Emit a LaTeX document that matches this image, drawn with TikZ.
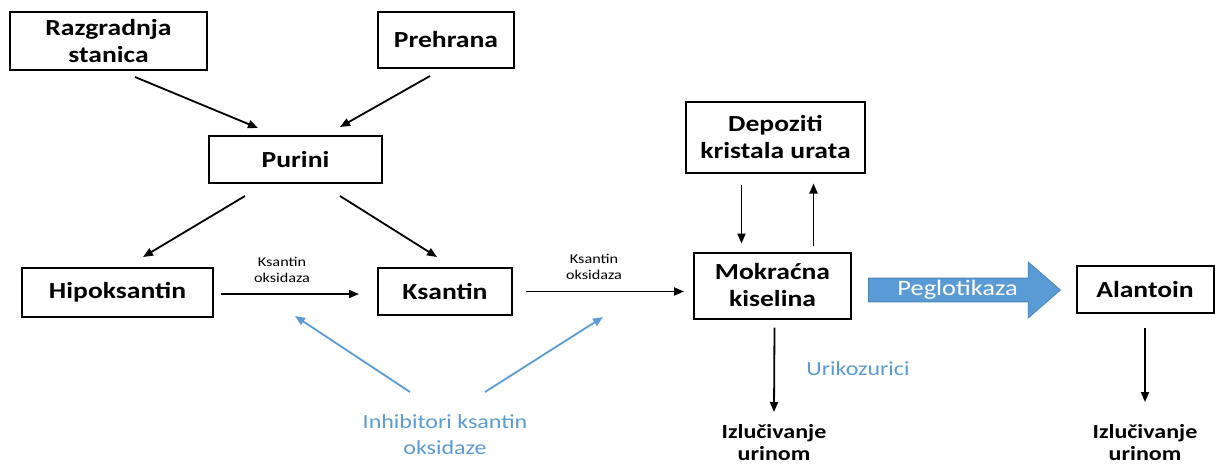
\documentclass[tikz,border=0pt]{standalone}
\usepackage{fontspec}
\setmainfont{Carlito}[FakeStretch=1.2]
\usepackage{tikz}
\usetikzlibrary{calc,shapes.arrows,arrows.meta}
\definecolor{drugblue}{HTML}{5B9BD5}
\tikzstyle{compound} = [rectangle, draw, line width=2pt, text centered, align=center, inner sep=0pt, font=\fontsize{23}{27}\selectfont\bfseries]
\tikzstyle{enzyme} = [align=center, inner sep=0pt, font=\fontsize{13.5}{16}\selectfont]
\tikzstyle{drug} = [align=center, text=drugblue, font=\fontsize{20}{26}\selectfont]
\tikzstyle{excretion} = [align=center, font=\fontsize{20}{22}\selectfont\bfseries]
\tikzstyle{bigarrow} = [single arrow, fill=drugblue, draw=drugblue!85!black, line width=0.8pt, single arrow head extend=13.5pt, single arrow tip angle=82, minimum width=56pt, minimum height=192pt, inner sep=0pt, text=white, font=\fontsize{22}{26}\selectfont]
\tikzstyle{connector} = [line width=1.8pt,->]
\tikzstyle{inhibition} = [line width=1.8pt,->,drugblue]

\begin{document}
\begin{tikzpicture}[x=1pt, y=-1pt, >={Triangle[length=10pt,width=8pt]}]
            \useasboundingbox (0,0) rectangle (1215,466);
            \node (razgradnja) [compound, minimum width=197pt, minimum height=58pt] at (108.5,41) {Razgradnja\\stanica};
            \node (prehrana) [compound, minimum width=136pt, minimum height=56pt] at (446,40) {Prehrana};
            \node (purini) [compound, minimum width=173pt, minimum height=47pt] at (295.5,159.5) {Purini};
            \node (hipoksantin) [compound, minimum width=191pt, minimum height=49pt] at (117.5,292.5) {Hipoksantin};
            \node (ksantin) [compound, minimum width=134pt, minimum height=47pt] at (445,291.5) {Ksantin};
            \node (depoziti) [compound, minimum width=179pt, minimum height=71pt] at (775.5,137) {Depoziti\\kristala urata};
            \node (mokracna) [compound, minimum width=157pt, minimum height=66pt] at (772.5,285.5) {Mokraćna\\kiselina};
            \node (alantoin) [compound, minimum width=137pt, minimum height=47pt] at (1145,289.5) {Alantoin};
            \node (peglotikaza) [bigarrow, anchor=tail] at (868,290) {Peglotikaza};
            \node (izlucivanje1) [excretion] at (774,443) {Izlučivanje\\urinom};
            \node (izlucivanje2) [excretion] at (1145,443) {Izlučivanje\\urinom};
            \node (inhibitori) [drug] at (445,435) {Inhibitori ksantin\\oksidaze};
            \node (urikozurici) [drug] at (858,369) {Urikozurici};
            \coordinate (step1) at (295,316);
            \coordinate (step2) at (603,317);
            \draw [connector] ($(razgradnja.south)+(26.5,6)$) -- ($(purini.north)+(-37.5,-7)$);
            \draw [connector] ($(prehrana.south)+(-16,7)$) -- ($(purini.north)+(44.5,-8)$);
            \draw [connector] ($(purini.south)+(-50.5,12)$) -- ($(hipoksantin.north)+(25.5,-10)$);
            \draw [connector] ($(purini.south)+(44.5,12)$) -- ($(ksantin.north)+(-8,-10)$);
            \draw [connector] ($(hipoksantin.east)+(7,1.5)$) -- node[enzyme, above=11pt, xshift=-8pt] {Ksantin\\oksidaza} ($(ksantin.west)+(-18,2.5)$);
            \draw [connector] ($(ksantin.east)+(13,0)$) -- node[enzyme, above=11pt, xshift=-11pt] {Ksantin\\oksidaza} ($(mokracna.west)+(-9,6)$);
            \draw [connector] ($(depoziti.south)+(-34,11)$) -- ($(mokracna.north)+(-31,-8)$);
            \draw [connector] ($(mokracna.north)+(41,-6)$) -- ($(depoziti.south)+(38,10)$);
            \draw [connector] ($(mokracna.south)+(2,8)$) -- ($(izlucivanje1.center)+(0,-31)$);
            \draw [connector] ($(alantoin.south)+(0,14)$) -- ($(izlucivanje2.center)+(0,-41)$);
            \draw [inhibition] ($(inhibitori.center)+(-35,-43)$) -- (step1);
            \draw [inhibition] ($(inhibitori.center)+(40,-43)$) -- (step2);
        \end{tikzpicture}
\end{document}
